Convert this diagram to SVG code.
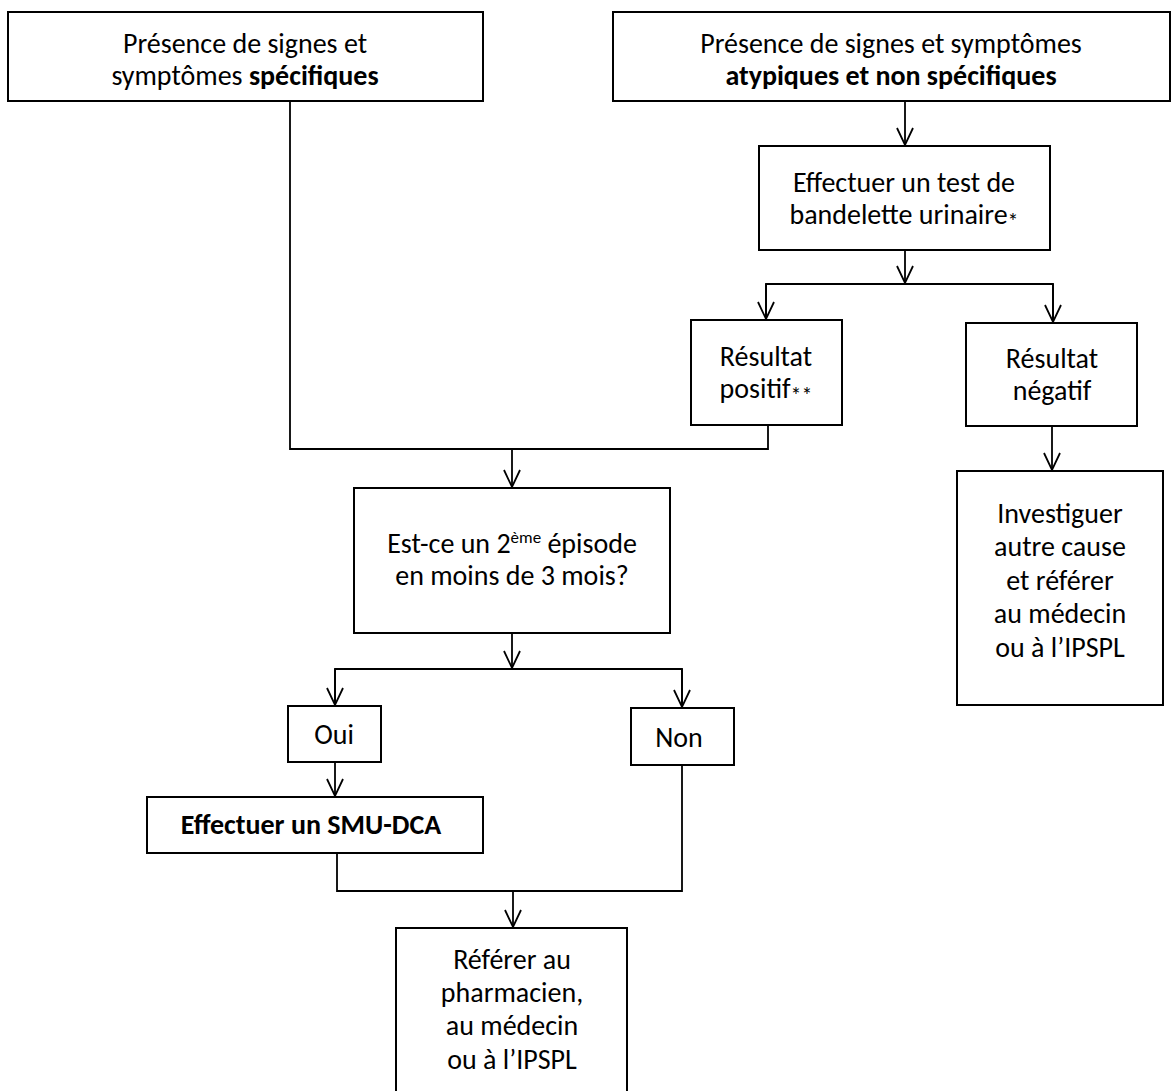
<svg xmlns="http://www.w3.org/2000/svg" width="1172" height="1091" viewBox="0 0 1172 1091">
<style>
  .box { fill: #ffffff; stroke: #000000; stroke-width: 2; }
  .t { font-family: Carlito, Lato, "Open Sans", sans-serif; font-size: 28px; fill: #000000; text-anchor: middle; }
  .b { font-weight: bold; }
  .sm { font-size: 17px; }
  .ast { font-size: 22px; }
  .conn { fill: none; stroke: #000000; stroke-width: 1.8; }
</style>
<defs>
  <marker id="arr" markerUnits="userSpaceOnUse" markerWidth="24" markerHeight="24" viewBox="-20 -12 24 24" refX="0" refY="0" orient="auto" overflow="visible">
    <path d="M-17,-8 L0,0 L-17,8" fill="none" stroke="#000000" stroke-width="1.8"/>
  </marker>
</defs>
<rect width="1172" height="1091" fill="#ffffff"/>

<g id="connectors">
  <path class="conn" d="M768,425 V449 H290 V101"/>
  <path class="conn" d="M512,449 V487" marker-end="url(#arr)"/>
  <path class="conn" d="M905,101 V145" marker-end="url(#arr)"/>
  <path class="conn" d="M905,250 V283" marker-end="url(#arr)"/>
  <path class="conn" d="M766,319 V284 H1053 V322"/>
  <path class="conn" d="M766,284 V319" marker-end="url(#arr)"/>
  <path class="conn" d="M1053,284 V322" marker-end="url(#arr)"/>
  <path class="conn" d="M1052,426 V470" marker-end="url(#arr)"/>
  <path class="conn" d="M512,633 V668" marker-end="url(#arr)"/>
  <path class="conn" d="M335,705 V669 H682 V707"/>
  <path class="conn" d="M335,669 V705" marker-end="url(#arr)"/>
  <path class="conn" d="M682,669 V707" marker-end="url(#arr)"/>
  <path class="conn" d="M335,762 V796" marker-end="url(#arr)"/>
  <path class="conn" d="M337,853 V891 H682 V765"/>
  <path class="conn" d="M513,891 V927" marker-end="url(#arr)"/>
</g>

<g id="n-specifiques">
  <rect class="box" x="8" y="12" width="475" height="89"/>
  <text class="t" x="245" y="53">Présence de signes et</text>
  <text class="t" x="245" y="85">symptômes <tspan class="b">spécifiques</tspan></text>
</g>

<g id="n-atypiques">
  <rect class="box" x="613" y="12" width="557" height="89"/>
  <text class="t" x="891" y="53">Présence de signes et symptômes</text>
  <text class="t b" x="891" y="85">atypiques et non spécifiques</text>
</g>

<g id="n-test">
  <rect class="box" x="759" y="146" width="291" height="104"/>
  <text class="t" x="904" y="192">Effectuer un test de</text>
  <text class="t" x="904" y="224">bandelette urinaire<tspan class="ast" dy="5">*</tspan></text>
</g>

<g id="n-positif">
  <rect class="box" x="691" y="320" width="151" height="105"/>
  <text class="t" x="766" y="366">Résultat</text>
  <text class="t" x="766" y="398">positif<tspan class="ast" dy="5">**</tspan></text>
</g>

<g id="n-negatif">
  <rect class="box" x="966" y="323" width="171" height="103"/>
  <text class="t" x="1052" y="368">Résultat</text>
  <text class="t" x="1052" y="400">négatif</text>
</g>

<g id="n-investiguer">
  <rect class="box" x="957" y="471" width="206" height="234"/>
  <text class="t" x="1060" y="523">Investiguer</text>
  <text class="t" x="1060" y="556">autre cause</text>
  <text class="t" x="1060" y="590">et référer</text>
  <text class="t" x="1060" y="623">au médecin</text>
  <text class="t" x="1060" y="657">ou à l’IPSPL</text>
</g>

<g id="n-episode">
  <rect class="box" x="354" y="488" width="316" height="145"/>
  <text class="t" x="512" y="553">Est-ce un 2<tspan class="sm" dy="-10">ème</tspan><tspan dy="10"> épisode</tspan></text>
  <text class="t" x="512" y="585">en moins de 3 mois?</text>
</g>

<g id="n-oui">
  <rect class="box" x="288" y="706" width="93" height="56"/>
  <text class="t" x="334" y="744">Oui</text>
</g>

<g id="n-non">
  <rect class="box" x="631" y="708" width="103" height="57"/>
  <text class="t" x="679" y="747">Non</text>
</g>

<g id="n-smu">
  <rect class="box" x="147" y="797" width="336" height="56"/>
  <text class="t b" x="311" y="834">Effectuer un SMU-DCA</text>
</g>

<g id="n-referer">
  <rect class="box" x="396" y="928" width="231" height="170"/>
  <text class="t" x="512" y="969">Référer au</text>
  <text class="t" x="512" y="1002">pharmacien,</text>
  <text class="t" x="512" y="1035">au médecin</text>
  <text class="t" x="512" y="1069">ou à l’IPSPL</text>
</g>
</svg>
